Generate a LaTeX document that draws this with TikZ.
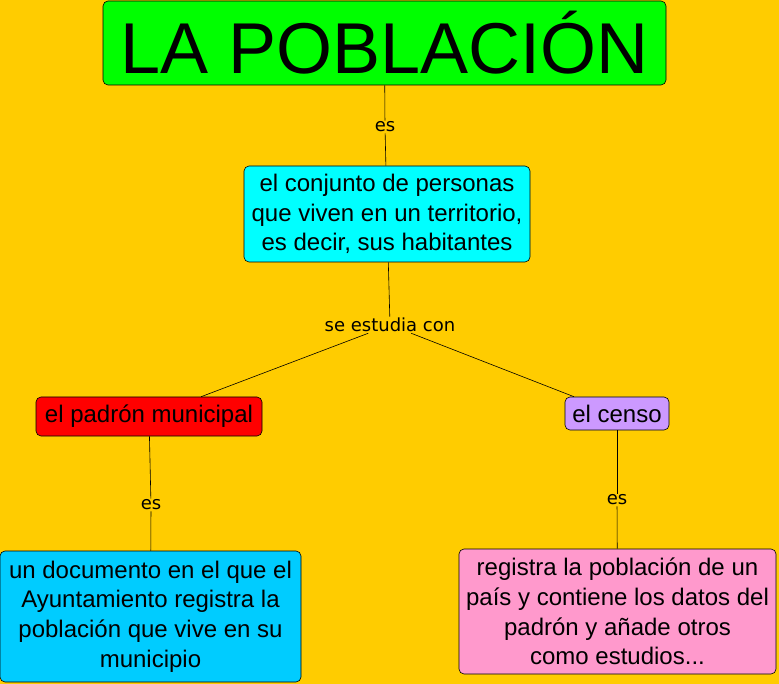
\documentclass[tikz,border=0pt]{standalone}
\usepackage{fontspec}
\setmainfont{Liberation Sans}
\newfontfamily\labelfont{DejaVu Sans}
\usetikzlibrary{positioning}

\definecolor{fondo}{HTML}{FFCC00}
\definecolor{verde}{HTML}{00FF00}
\definecolor{cian}{HTML}{00FFFF}
\definecolor{rojo}{HTML}{FF0000}
\definecolor{lila}{HTML}{CC99FF}
\definecolor{azul}{HTML}{00CCFF}
\definecolor{rosa}{HTML}{FF99CC}

\begin{document}
\begin{tikzpicture}[x=1pt, y=-1pt,
    concept/.style={draw, rounded corners=5pt, align=center, inner sep=0pt,
        font=\fontsize{24}{29.7}\selectfont},
    linkword/.style={inner sep=1pt, font=\labelfont\fontsize{18}{21}\selectfont},
    every path/.style={line width=0.6pt}]
    % fondo
    \fill[fondo] (0,0) rectangle (779,684);
    \useasboundingbox (0,0) rectangle (779,684);

    \node (pob) [concept, fill=verde, minimum width=563pt, minimum height=84pt,
        font=\fontsize{72}{80}\selectfont] at (384.5,43) {LA POBLACIÓN};
    \node (conj) [concept, fill=cian, minimum width=286pt, minimum height=96pt] at (387,214)
        {el conjunto de personas\\que viven en un territorio,\\es decir, sus habitantes};
    \node (padron) [concept, fill=rojo, minimum width=226pt, minimum height=39pt] at (149,416.5)
        {el padrón municipal};
    \node (censo) [concept, fill=lila, minimum width=104pt, minimum height=33pt] at (617,413.5)
        {el censo};
    \node (doc) [concept, fill=azul, minimum width=301pt, minimum height=131pt] at (150.5,616.5)
        {un documento en el que el\\Ayuntamiento registra la\\población que vive en su\\municipio};
    \node (reg) [concept, fill=rosa, minimum width=317pt, minimum height=125pt] at (617.5,611.5)
        {registra la población de un\\país y contiene los datos del\\padrón y añade otros\\como estudios...};

    % palabras de enlace
    \node (es1) [linkword] at (385,127) {es};
    \node (se) [linkword] at (390,325) {se estudia con};
    \node (es2) [linkword] at (151,505) {es};
    \node (es3) [linkword] at (617,500) {es};

    \draw (pob) -- (es1);
    \draw (es1) -- (conj);
    \draw (conj) -- (se);
    \draw (se) -- (padron);
    \draw (se) -- (censo);
    \draw (padron) -- (es2);
    \draw (es2) -- (doc);
    \draw (censo) -- (es3);
    \draw (es3) -- (reg);
\end{tikzpicture}
\end{document}
